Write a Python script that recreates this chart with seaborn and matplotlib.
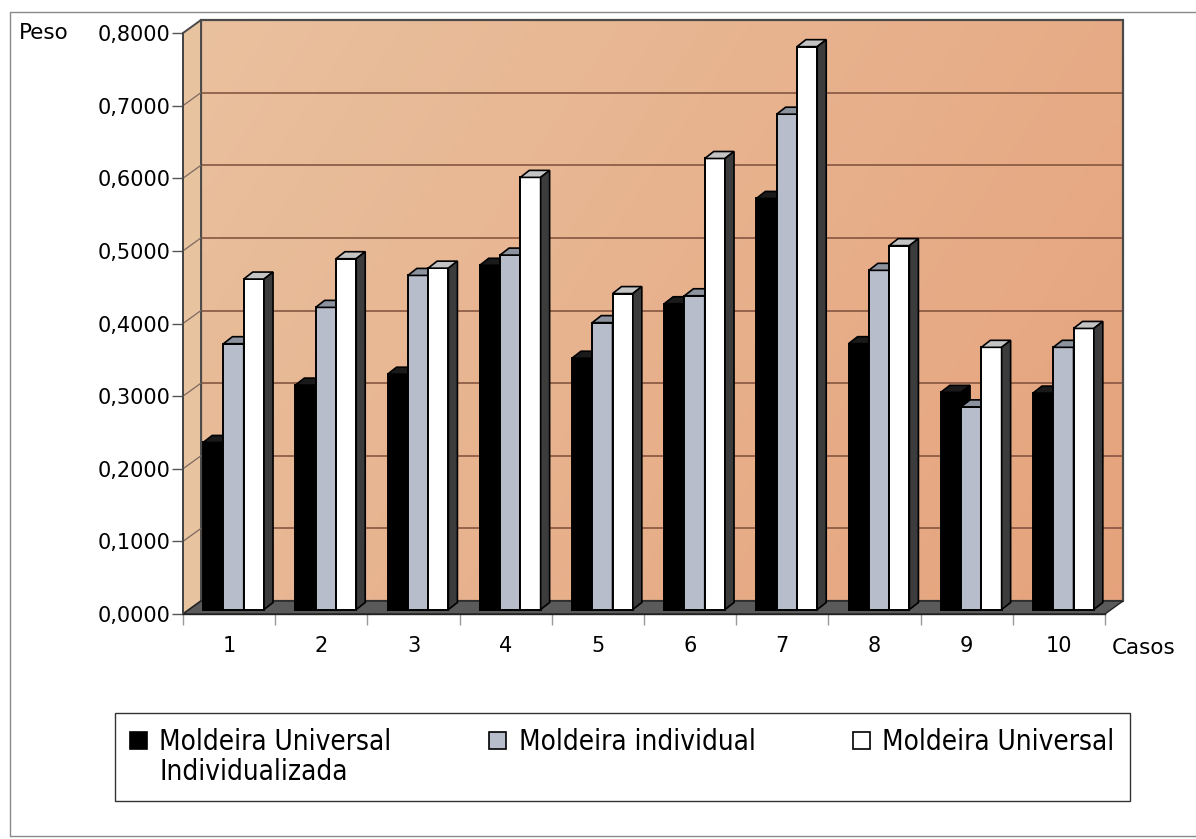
import numpy as np
import pandas as pd
import matplotlib
matplotlib.use('Agg')
import matplotlib.pyplot as plt
import matplotlib.transforms as mtransforms
from matplotlib.patches import Polygon, Patch
from matplotlib.lines import Line2D
from matplotlib import font_manager
import seaborn as sns

# ========================================
# Dados
# ========================================
casos = ['1', '2', '3', '4', '5', '6', '7', '8', '9', '10']
series = ['Moldeira Universal Individualizada', 'Moldeira individual', 'Moldeira Universal']
peso_univ_individualizada = [0.2300, 0.3090, 0.3240, 0.4740, 0.3460, 0.4210, 0.5660, 0.3660, 0.2990, 0.2980]
peso_individual = [0.3660, 0.4160, 0.4600, 0.4880, 0.3950, 0.4320, 0.6820, 0.4670, 0.2790, 0.3610]
peso_universal = [0.4550, 0.4830, 0.4700, 0.5950, 0.4350, 0.6210, 0.7750, 0.5010, 0.3610, 0.3870]
ytick_vals = [0.0, 0.1, 0.2, 0.3, 0.4, 0.5, 0.6, 0.7, 0.8]
legend_rows = [['Moldeira Universal', 'Individualizada'],
               ['Moldeira individual', ''],
               ['Moldeira Universal', '']]

cores_frente = ['#000000', '#B7BDCB', '#FFFFFF']
cores_topo = ['#1a1a1a', '#8c929e', '#c4c4c4']
cores_lado = ['#000000', '#3b3e45', '#3c3c3c']

df = pd.DataFrame({
    'caso': casos * 3,
    'serie': [s for s in series for _ in casos],
    'peso': peso_univ_individualizada + peso_individual + peso_universal,
})

# ========================================
# Figura
# ========================================
sns.set_theme(style='white')
plt.rcParams['font.family'] = ['DejaVu Sans']
plt.rcParams['text.color'] = 'black'
plt.rcParams['xtick.color'] = 'black'
plt.rcParams['ytick.color'] = 'black'

W, H = 1196, 839
fig = plt.figure(figsize=(W / 100, H / 100), dpi=100)
fig.patch.set_facecolor('white')

X0, X1, YB, YT = 183, 1105, 614, 33   # plano frontal em pixels
ax = fig.add_axes([X0 / W, 1 - YB / H, (X1 - X0) / W, (YB - YT) / H])
ax.patch.set_alpha(0)

n = len(casos)
ymax = ytick_vals[-1]
sx = (X1 - X0) / n
sy = (YB - YT) / ymax


def px_x(p):
    return p / sx


def px_y(p):
    return p / sy


sns.barplot(data=df, x='caso', y='peso', hue='serie', hue_order=series, order=casos,
            palette=cores_frente, width=0.66, saturation=1, edgecolor='black',
            linewidth=1.4, legend=False, ax=ax)

# deslocamento das barras dentro da profundidade
tr = mtransforms.offset_copy(ax.transData, fig=fig, x=4.5, y=4.5, units='dots')
bdx, bdy = px_x(9), px_y(7)

for k, cont in enumerate(ax.containers):
    for p in cont:
        x0, w, h = p.get_x(), p.get_width(), p.get_height()
        z = 5 + 0.1 * k
        p.set_transform(tr)
        p.set_zorder(z)
        p.set_clip_on(False)
        topo = Polygon([(x0, h), (x0 + w, h), (x0 + w + bdx, h + bdy), (x0 + bdx, h + bdy)],
                       closed=True, transform=tr, fc=cores_topo[k], ec='black', lw=1.2,
                       zorder=z + 0.01, clip_on=False)
        lado = Polygon([(x0 + w, 0), (x0 + w + bdx, bdy), (x0 + w + bdx, h + bdy), (x0 + w, h)],
                       closed=True, transform=tr, fc=cores_lado[k], ec='black', lw=1.2,
                       zorder=z + 0.02, clip_on=False)
        ax.add_patch(topo)
        ax.add_patch(lado)

# ========================================
# Paredes e chão
# ========================================
Dx, Dy = px_x(18), px_y(13)
xa, xb = -0.5, n - 0.5

# gradiente da parede do fundo
c1 = np.array(matplotlib.colors.to_rgb('#EAC4A2'))
c2 = np.array(matplotlib.colors.to_rgb('#E5A17A'))
u = np.linspace(0, 1, 64)
uu, vv = np.meshgrid(u, u)
t = np.clip(0.6 * uu + 0.25 * (1 - vv) + 0.1, 0, 1)
grad = c1[None, None, :] * (1 - t[..., None]) + c2[None, None, :] * t[..., None]
img = ax.imshow(grad, extent=[xa + Dx, xb + Dx, Dy, ymax + Dy], origin='lower',
                aspect='auto', zorder=0.5, interpolation='bilinear')
img.set_clip_on(False)

parede = Polygon([(xa + Dx, Dy), (xb + Dx, Dy), (xb + Dx, ymax + Dy), (xa + Dx, ymax + Dy)],
                 closed=True, fc='none', ec='#4a4a4a', lw=1.6, zorder=1.5, clip_on=False)
ax.add_patch(parede)

lateral = Polygon([(xa, 0), (xa + Dx, Dy), (xa + Dx, ymax + Dy), (xa, ymax)],
                  closed=True, fc='#E8C3A0', ec='#4a4a4a', lw=1.4, zorder=1.6, clip_on=False)
ax.add_patch(lateral)

for v in ytick_vals[1:-1]:
    ax.add_line(Line2D([xa + Dx, xb + Dx], [v + Dy, v + Dy], color='#7e4e3a', lw=1.1,
                       zorder=1, clip_on=False))
    ax.add_line(Line2D([xa, xa + Dx], [v, v + Dy], color='#7c6a60', lw=0.9,
                       zorder=1.7, clip_on=False))

chao = Polygon([(xa, 0), (xb, 0), (xb + Dx, Dy), (xa + Dx, Dy)],
               closed=True, fc='#5a5a5a', ec='#222222', lw=1.0, zorder=2, clip_on=False)
ax.add_patch(chao)

# ========================================
# Eixos
# ========================================
ax.set_xlim(xa, xb)
ax.set_ylim(0, ymax)
ax.grid(False)

ax.set_yticks(ytick_vals)
ax.set_yticklabels([f'{v:.4f}'.replace('.', ',') for v in ytick_vals])
ax.tick_params(axis='y', left=True, length=8, width=1, color='#555555', pad=1,
               labelsize=15, labelcolor='black')

ax.set_xticks([i - 0.5 for i in range(n + 1)])
ax.set_xticklabels([])
ax.set_xticks(list(range(n)), minor=True)
ax.set_xticklabels(casos, minor=True)
ax.tick_params(axis='x', which='major', bottom=True, length=8, width=1, color='#999999')
ax.tick_params(axis='x', which='minor', bottom=True, length=0, pad=16, labelsize=15,
               labelcolor='black')
ax.set_xlabel('')
ax.set_ylabel('')

for s in ['top', 'right']:
    ax.spines[s].set_visible(False)
ax.spines['left'].set_color('#444444')
ax.spines['left'].set_linewidth(1.2)
ax.spines['bottom'].set_color('#222222')
ax.spines['bottom'].set_linewidth(1.0)

fig.text(19 / W, 1 - 33 / H, 'Peso', fontsize=15.5, va='center', ha='left', color='black')
fig.text(1112 / W, 1 - 648 / H, 'Casos', fontsize=15.5, va='center', ha='left', color='black')

# moldura exterior
fig.add_artist(Line2D([10 / W, 1], [1 - 12 / H, 1 - 12 / H], color='#8a8a8a', lw=1))
fig.add_artist(Line2D([10 / W, 10 / W], [1 - 12 / H, 1 - 836 / H], color='#8a8a8a', lw=1))
fig.add_artist(Line2D([10 / W, 1], [1 - 836 / H, 1 - 836 / H], color='#8a8a8a', lw=1))

# ========================================
# Legenda
# ========================================
nomes = {f.name for f in font_manager.fontManager.ttflist}
if 'Liberation Sans Narrow' in nomes:
    prop_leg = font_manager.FontProperties(family='Liberation Sans Narrow', size=26)
else:
    prop_leg = font_manager.FontProperties(family='DejaVu Sans', stretch='condensed', size=20)

vazio = Patch(facecolor='none', edgecolor='none')
handles, labels = [], []
for k, linhas in enumerate(legend_rows):
    handles.append(Patch(facecolor=cores_frente[k], edgecolor='black', lw=1.2))
    labels.append(linhas[0])
    handles.append(vazio)
    labels.append(linhas[1])

leg = fig.legend(handles, labels, ncol=3, loc='upper left',
                 bbox_to_anchor=(115 / W, 1 - 713 / H, (1130 - 115) / W, 0.0),
                 mode='expand', borderaxespad=0, frameon=True, fancybox=False,
                 framealpha=1, edgecolor='#333333', prop=prop_leg, labelcolor='black',
                 handlelength=0.6, handleheight=0.6, handletextpad=0.45,
                 labelspacing=0.05, borderpad=0.55, columnspacing=2.0)
leg.get_frame().set_linewidth(1.0)

fig.savefig('out.png', dpi=100)
